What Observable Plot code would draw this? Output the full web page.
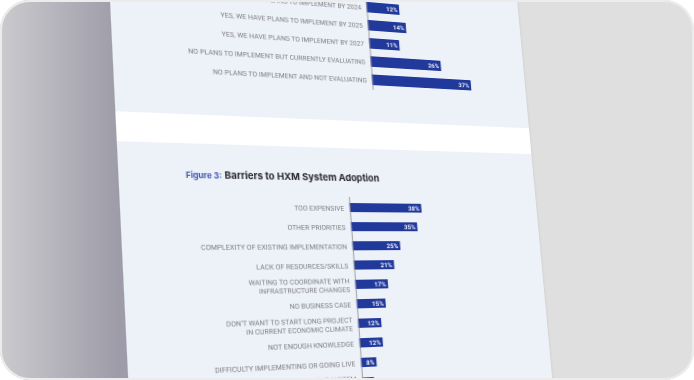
<!DOCTYPE html>
<html><head><meta charset="utf-8">
<script src="https://cdn.jsdelivr.net/npm/d3@7"></script>
<script src="https://cdn.jsdelivr.net/npm/@observablehq/plot@0.6"></script>
<style>
html,body{margin:0;padding:0;background:#fff;}
#frame{position:relative;width:694px;height:380px;overflow:hidden;background:#fff;}
#clip{position:absolute;left:0;top:0;width:694px;height:380px;border-radius:30px;overflow:hidden;
  background:linear-gradient(to right,#cbcbce 0px,#b6b5bd 55px,#9d9ca8 118px,#9d9ca8 132px,#dfdfdf 132px,#dfdfdf 100%);}
#border{position:absolute;left:0;top:0;width:690px;height:376px;border:2px solid #ececec;border-radius:30px;pointer-events:none;}
#page{position:absolute;left:0;top:0;width:414px;height:388px;transform-origin:0 0;}
#pagebg{position:absolute;left:0;top:-40px;width:414px;height:480px;background:#edf1f8;box-shadow:1px 0 2px rgba(0,0,0,0.06);}
#band{position:absolute;left:0;top:124.8px;width:414px;height:28.2px;background:#ffffff;}
.chart{position:absolute;left:0;}
.chart svg{background:transparent;display:block;}
.chart svg text{letter-spacing:0.03px;}
#title{position:absolute;left:59.3px;top:174.8px;white-space:nowrap;font-family:Inter,"Open Sans",sans-serif;font-weight:700;line-height:11px;}
#title .fig{color:#3d55b0;font-size:7.6px;margin-right:2.5px;}
#title .main{color:#26262b;font-size:9.2px;}
</style>
</head><body>
<div id="frame">
  <div id="clip">
    <div id="page">
      <div id="pagebg"></div>
      <div id="band"></div>
      <div id="topChart" class="chart" style="top:-5.28px"></div>
      <div id="title"><span class="fig"></span><span class="main"></span></div>
      <div id="bottomChart" class="chart" style="top:202.4px"></div>
    </div>
  </div>
  <div id="border"></div>
</div>
<script>
// ---- data ----
const planCategories = [
  "YES, WE HAVE PLANS TO IMPLEMENT BY 2024",
  "YES, WE HAVE PLANS TO IMPLEMENT BY 2025",
  "YES, WE HAVE PLANS TO IMPLEMENT BY 2027",
  "NO PLANS TO IMPLEMENT BUT CURRENTLY EVALUATING",
  "NO PLANS TO IMPLEMENT AND NOT EVALUATING"
];
const planValues = [12, 14, 11, 26, 37];

const barrierCategories = [
  "TOO EXPENSIVE",
  "OTHER PRIORITIES",
  "COMPLEXITY OF EXISTING IMPLEMENTATION",
  "LACK OF RESOURCES/SKILLS",
  "WAITING TO COORDINATE WITH\nINFRASTRUCTURE CHANGES",
  "NO BUSINESS CASE",
  "DON\u2019T WANT TO START LONG PROJECT\nIN CURRENT ECONOMIC CLIMATE",
  "NOT ENOUGH KNOWLEDGE",
  "DIFFICULTY IMPLEMENTING OR GOING LIVE",
  "SATISFIED WITH CURRENT SYSTEM\nFOR NOW"
];
const barrierValues = [38, 35, 25, 21, 17, 15, 12, 12, 8, 6];

const figureLabel = "Figure 3:";
const figureTitle = "Barriers to HXM System Adoption";

// ---- perspective of the photographed page ----
function homography(W, H, q) {
  const [[x0,y0],[x1,y1],[x2,y2],[x3,y3]] = q;
  const dx1 = x1-x2, dx2 = x3-x2, dx3 = x0-x1+x2-x3;
  const dy1 = y1-y2, dy2 = y3-y2, dy3 = y0-y1+y2-y3;
  const den = dx1*dy2 - dx2*dy1;
  const g = (dx3*dy2 - dx2*dy3)/den, h = (dx1*dy3 - dx3*dy1)/den;
  const a = x1-x0+g*x1, b = x3-x0+h*x3, c = x0;
  const d = y1-y0+g*y1, e = y3-y0+h*y3, f = y0;
  return `matrix3d(${a/W},${d/W},0,${g/W},${b/H},${e/H},0,${h/H},0,0,1,0,${c},${f},0,1)`;
}
document.getElementById("page").style.transform =
  homography(414, 388, [[109,-20],[518.4,14.8],[552,376.4],[129.2,400]]);

// ---- charts ----
function barChart(cats, vals, {x0, pxPer, step, barH, xMax}) {
  const data = cats.map((c, i) => ({cat: c, v: vals[i], lab: vals[i] + "%"}));
  const n = cats.length;
  const pin = 1 - barH / step;
  return Plot.plot({
    width: 414,
    height: n * step,
    margin: 0,
    style: {background: "transparent", fontFamily: "Roboto, sans-serif"},
    x: {domain: [0, xMax], range: [x0, x0 + pxPer * xMax], axis: null},
    y: {domain: cats, range: [0, n * step], paddingInner: pin, paddingOuter: pin / 2, axis: null},
    marks: [
      Plot.barX(data, {x: "v", y: "cat", fill: "#22399c"}),
      Plot.ruleX([0], {stroke: "#8d8d92", strokeWidth: 0.8}),
      Plot.text(data, {x: 0, y: "cat", text: "cat", textAnchor: "end", dx: -6,
        fontSize: 6.6, fill: "#78787d", lineHeight: 1.27}),
      Plot.text(data, {x: "v", y: "cat", text: "lab", textAnchor: "end", dx: -2.5,
        fontSize: 6.3, fontWeight: 700, fill: "#ffffff"})
    ]
  });
}

document.getElementById("topChart").append(
  barChart(planCategories, planValues, {x0: 245.5, pxPer: 2.88, step: 19.46, barH: 11, xMax: 40}));
document.getElementById("bottomChart").append(
  barChart(barrierCategories, barrierValues, {x0: 212.8, pxPer: 1.945, step: 19.19, barH: 9.5, xMax: 40}));

document.querySelector("#title .fig").textContent = figureLabel;
document.querySelector("#title .main").textContent = figureTitle;
</script>
</body></html>
